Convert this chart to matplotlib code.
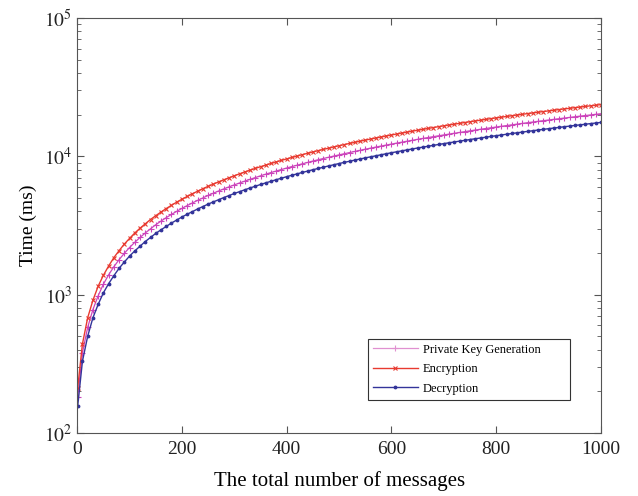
import math
import matplotlib
matplotlib.use("Agg")
import matplotlib.pyplot as plt
from matplotlib.ticker import FuncFormatter

plt.rcParams['font.family'] = ['Liberation Serif', 'DejaVu Serif']
plt.rcParams['mathtext.fontset'] = 'stix'

# number of messages (x axis)
messages = [1, 10, 20, 30, 40, 50, 60, 70, 80, 90,
            100, 110, 120, 130, 140, 150, 160, 170, 180, 190,
            200, 210, 220, 230, 240, 250, 260, 270, 280, 290,
            300, 310, 320, 330, 340, 350, 360, 370, 380, 390,
            400, 410, 420, 430, 440, 450, 460, 470, 480, 490,
            500, 510, 520, 530, 540, 550, 560, 570, 580, 590,
            600, 610, 620, 630, 640, 650, 660, 670, 680, 690,
            700, 710, 720, 730, 740, 750, 760, 770, 780, 790,
            800, 810, 820, 830, 840, 850, 860, 870, 880, 890,
            900, 910, 920, 930, 940, 950, 960, 970, 980, 990, 1000]

# time in ms
pkg_time = [183, 380, 580, 780, 980, 1190, 1390, 1590, 1790, 1990,
            2190, 2390, 2590, 2790, 2990, 3200, 3400, 3600, 3800, 4000,
            4200, 4400, 4600, 4800, 5000, 5210, 5410, 5610, 5810, 6010,
            6210, 6410, 6610, 6810, 7010, 7220, 7420, 7620, 7820, 8020,
            8220, 8420, 8620, 8820, 9020, 9230, 9430, 9630, 9830, 10030,
            10230, 10430, 10630, 10830, 11030, 11240, 11440, 11640, 11840, 12040,
            12240, 12440, 12640, 12840, 13040, 13250, 13450, 13650, 13850, 14050,
            14250, 14450, 14650, 14850, 15050, 15260, 15460, 15660, 15860, 16060,
            16260, 16460, 16660, 16860, 17060, 17270, 17470, 17670, 17870, 18070,
            18270, 18470, 18670, 18870, 19070, 19280, 19480, 19680, 19880, 20080, 20280]

enc_time = [213, 440, 680, 910, 1150, 1380, 1610, 1850, 2080, 2320,
            2550, 2790, 3020, 3250, 3490, 3720, 3950, 4190, 4420, 4660,
            4890, 5120, 5360, 5590, 5830, 6060, 6290, 6530, 6760, 6990,
            7230, 7460, 7700, 7930, 8170, 8400, 8630, 8870, 9100, 9340,
            9570, 9800, 10040, 10270, 10510, 10740, 10970, 11210, 11440, 11680,
            11910, 12140, 12380, 12610, 12850, 13080, 13310, 13550, 13780, 14020,
            14250, 14480, 14720, 14950, 15190, 15420, 15650, 15890, 16120, 16360,
            16590, 16820, 17060, 17290, 17530, 17760, 17990, 18230, 18460, 18700,
            18930, 19160, 19400, 19630, 19870, 20100, 20330, 20570, 20800, 21040,
            21270, 21500, 21740, 21970, 22210, 22440, 22670, 22910, 23140, 23380, 23610]

dec_time = [157, 330, 500, 680, 850, 1030, 1200, 1370, 1550, 1720,
            1900, 2070, 2240, 2420, 2590, 2770, 2940, 3110, 3290, 3460,
            3640, 3810, 3980, 4160, 4330, 4510, 4680, 4850, 5030, 5200,
            5380, 5550, 5720, 5900, 6070, 6250, 6420, 6590, 6770, 6940,
            7120, 7290, 7460, 7640, 7810, 7990, 8160, 8330, 8510, 8680,
            8860, 9030, 9200, 9380, 9550, 9730, 9900, 10070, 10250, 10420,
            10600, 10770, 10940, 11120, 11290, 11470, 11640, 11810, 11990, 12160,
            12340, 12510, 12680, 12860, 13030, 13210, 13380, 13550, 13730, 13900,
            14080, 14250, 14420, 14600, 14770, 14950, 15120, 15290, 15470, 15640,
            15820, 15990, 16160, 16340, 16510, 16690, 16860, 17030, 17210, 17380, 17560]

fig = plt.figure(figsize=(6.38, 4.96), dpi=100)
ax = fig.add_axes([0.121, 0.127, 0.821, 0.837])

ax.plot(messages, pkg_time, color='#cc44bb', lw=0.9, marker='+', ms=4, mew=0.8,
        label='Private Key Generation')
ax.plot(messages, enc_time, color='#e83a30', lw=1.0, marker='x', ms=3, mew=0.8,
        label='Encryption')
ax.plot(messages, dec_time, color='#33349a', lw=1.0, marker='.', ms=3.5,
        label='Decryption')

ax.set_yscale('log')
ax.set_xlim(0, 1000)
ax.set_ylim(1e2, 1e5)
ax.set_xticks([0, 200, 400, 600, 800, 1000])
ax.yaxis.set_major_formatter(FuncFormatter(lambda v, p: r'$10^{%d}$' % round(math.log10(v))))
ax.tick_params(which='both', direction='in', top=True, right=True,
               labelsize=14, colors='#555555', labelcolor='#222222')
ax.tick_params(axis='x', pad=6)
ax.tick_params(which='major', length=5)
ax.tick_params(which='minor', length=3)
for s in ax.spines.values():
    s.set_color('#555555')
    s.set_linewidth(0.8)

ax.set_xlabel('The total number of messages', fontsize=15, labelpad=9)
ax.set_ylabel('Time (ms)', fontsize=14, labelpad=5)

leg = ax.legend(loc='lower left', bbox_to_anchor=(0.555, 0.08, 0.386, 0.15),
                mode='expand', fontsize=9, fancybox=False, framealpha=1,
                edgecolor='#333333', borderpad=0.4, labelspacing=0.6,
                handlelength=3.6, handletextpad=0.4, borderaxespad=0)
leg.get_frame().set_linewidth(0.8)
leg.get_lines()[0].set_color('#e090d0')

fig.savefig('out.png', dpi=100)
